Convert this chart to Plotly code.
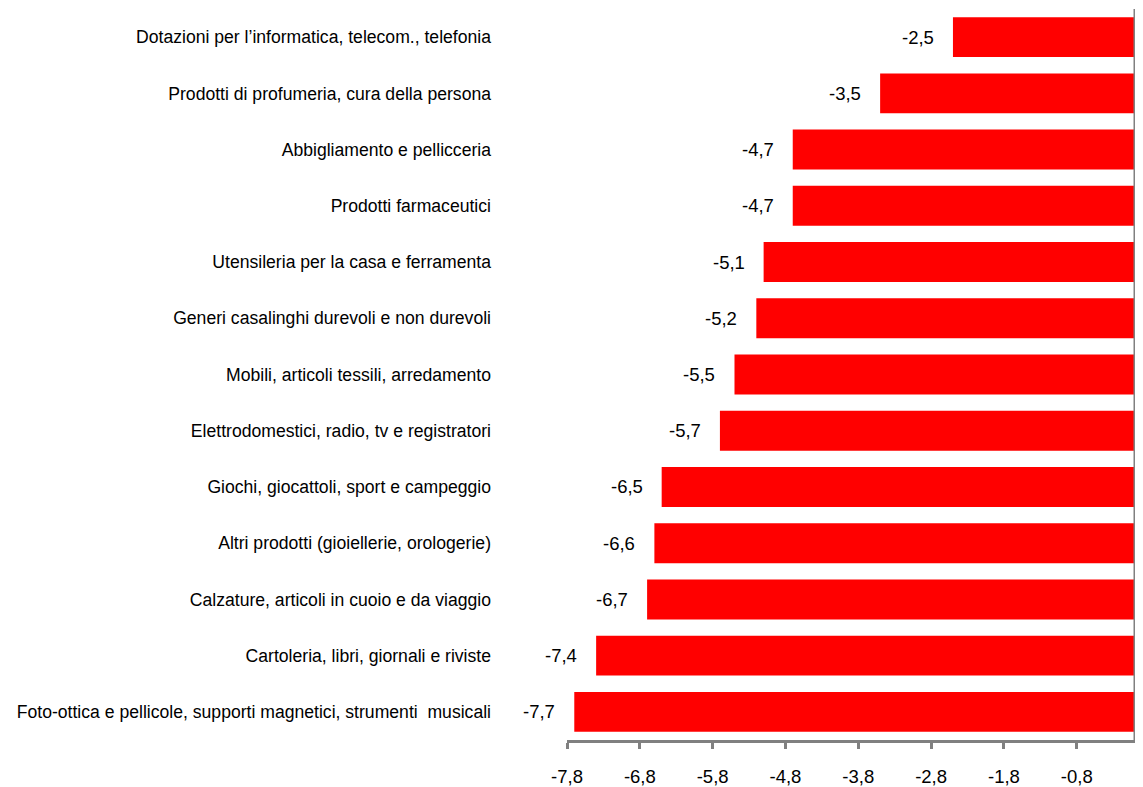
import plotly.graph_objects as go

categories = [
    "Dotazioni per l’informatica, telecom., telefonia",
    "Prodotti di profumeria, cura della persona",
    "Abbigliamento e pellicceria",
    "Prodotti farmaceutici",
    "Utensileria per la casa e ferramenta",
    "Generi casalinghi durevoli e non durevoli",
    "Mobili, articoli tessili, arredamento",
    "Elettrodomestici, radio, tv e registratori",
    "Giochi, giocattoli, sport e campeggio",
    "Altri prodotti (gioiellerie, orologerie)",
    "Calzature, articoli in cuoio e da viaggio",
    "Cartoleria, libri, giornali e riviste",
    "Foto-ottica e pellicole, supporti magnetici, strumenti  musicali",
]
values = [-2.5, -3.5, -4.7, -4.7, -5.1, -5.2, -5.5, -5.7, -6.5, -6.6, -6.7, -7.4, -7.7]
tick_vals = [-7.8, -6.8, -5.8, -4.8, -3.8, -2.8, -1.8, -0.8]

FONT = "Liberation Sans Narrow, Arial Narrow, Liberation Sans, Arial, sans-serif"
FS = 17.6
FSN = 18.5

labels = [f"{v:.1f}".replace(".", ",") for v in values]

fig = go.Figure()
fig.add_trace(go.Bar(
    x=values, y=categories, orientation="h",
    marker=dict(color="#FF0000", line=dict(width=0)),
    hoverinfo="skip",
))

for c, v, t in zip(categories, values, labels):
    fig.add_annotation(x=v, y=c, text=t, showarrow=False, xanchor="right",
                       xshift=-17, font=dict(family=FONT, size=FSN, color="#000000"))

fig.add_shape(type="line", xref="x", yref="paper", x0=0, x1=0, y0=0, y1=1,
              line=dict(color="#808080", width=3))

fig.update_layout(
    width=1143, height=787,
    margin=dict(l=559, r=16, t=1, b=55),
    paper_bgcolor="white", plot_bgcolor="white",
    showlegend=False, bargap=0.29,
    separators=",.",
    font=dict(family=FONT, size=FS, color="#000000"),
)
fig.update_xaxes(
    range=[-7.8, 0], tickvals=tick_vals,
    ticktext=[f"{t:.1f}".replace(".", ",") for t in tick_vals],
    showline=True, linecolor="#808080", linewidth=3,
    ticks="outside", tickcolor="#808080", tickwidth=3, ticklen=6,
    showgrid=False, zeroline=False, ticklabelstandoff=12,
    tickfont=dict(family=FONT, size=FSN), automargin=False,
)
fig.update_yaxes(
    autorange="reversed", showline=False, showgrid=False, zeroline=False,
    ticks="", ticklabelstandoff=75, tickfont=dict(family=FONT, size=FS),
    automargin=False,
)

fig.write_html("out.html")
